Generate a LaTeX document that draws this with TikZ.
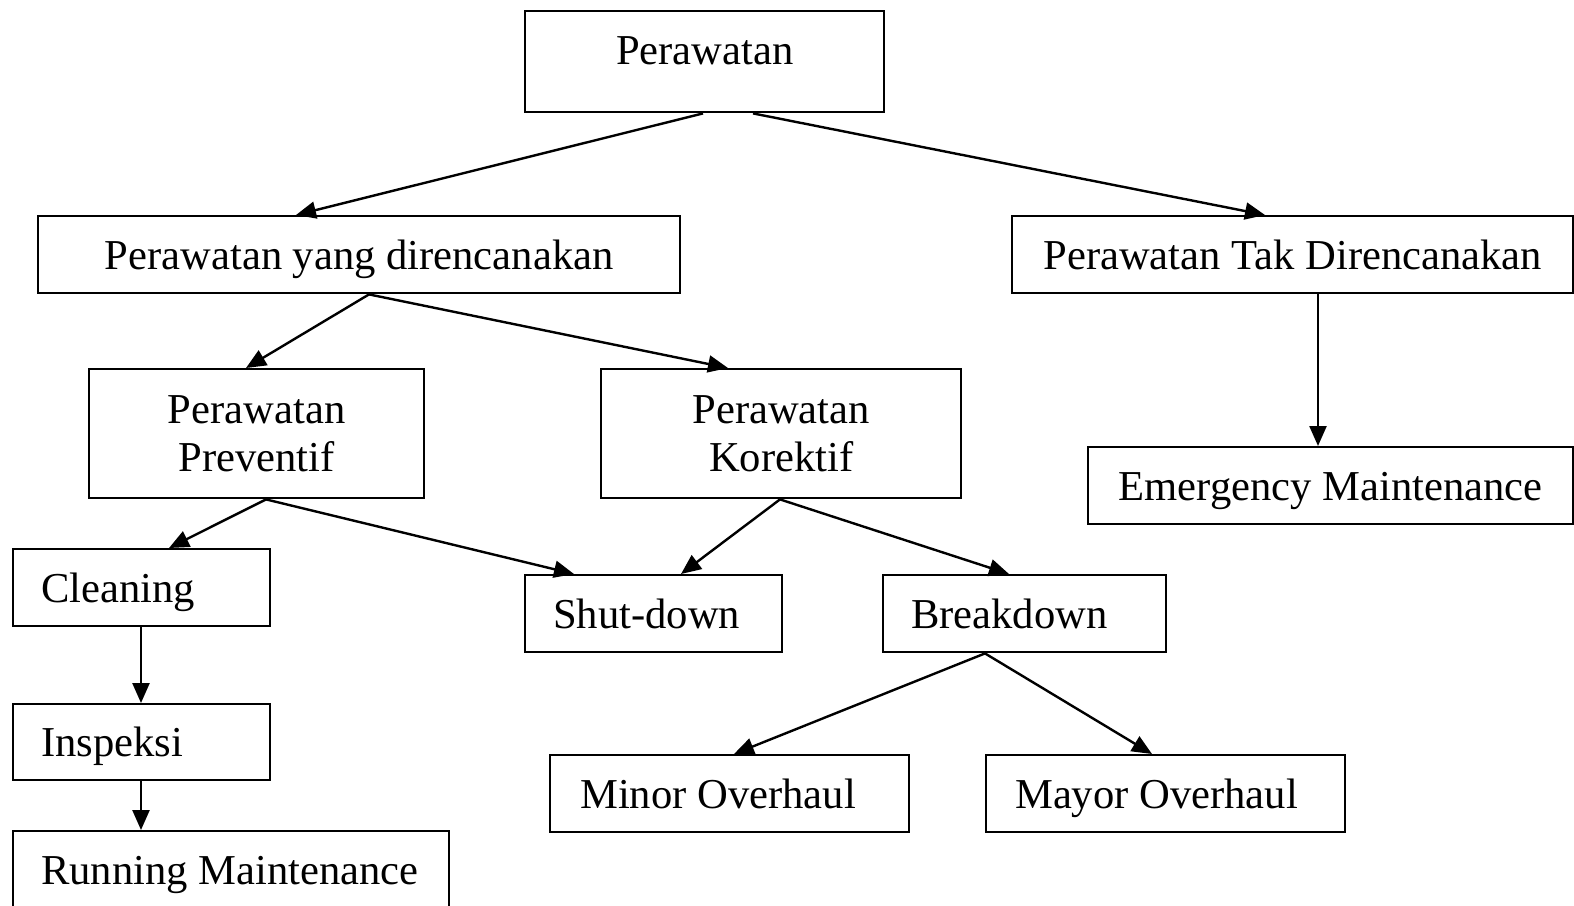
\documentclass[tikz,border=0pt]{standalone}
\usepackage{fontspec}
\setmainfont{Liberation Serif}
\usetikzlibrary{arrows.meta}
\newcommand{\lefttext}[2]{\makebox[#1][l]{#2}}
\begin{document}
\begin{tikzpicture}[x=1pt,y=-1pt,
  box/.style={draw, line width=2.4pt, inner sep=0pt, anchor=north west,
    font=\fontsize{42.6}{48}\selectfont},
  sbox/.style={box, text height=29pt, text depth=0pt},
  conn/.style={line width=2.4pt, -{Triangle[length=20pt,width=17pt]}}]
\useasboundingbox (0,0) rectangle (1574,905);
\node[box, minimum width=359pt, minimum height=101pt] (top) at (524,10) {};
\node[font=\fontsize{42.6}{48}\selectfont, inner sep=0pt, text height=29pt, text depth=0pt] (toptext) at ([yshift=12pt]top.center) {Perawatan};
\node[sbox, minimum width=642pt, minimum height=77pt] (pyd) at (37,215) {Perawatan yang direncanakan};
\node[sbox, minimum width=561pt, minimum height=77pt] (ptd) at (1011,215) {Perawatan Tak Direncanakan};
\node[box, align=center, minimum width=335pt, minimum height=129pt] (prev) at (88,368) {Perawatan\\Preventif};
\node[box, align=center, minimum width=360pt, minimum height=129pt] (kor) at (600,368) {Perawatan\\Korektif};
\node[sbox, minimum width=485pt, minimum height=77pt] (emer) at (1087,446) {Emergency Maintenance};
\node[sbox, minimum width=257pt, minimum height=77pt] (clean) at (12,548) {\lefttext{201pt}{Cleaning}};
\node[sbox, minimum width=257pt, minimum height=77pt] (shut) at (524,574) {\lefttext{201pt}{Shut-down}};
\node[sbox, minimum width=283pt, minimum height=77pt] (brk) at (882,574) {\lefttext{227pt}{Breakdown}};
\node[sbox, minimum width=257pt, minimum height=76pt] (insp) at (12,703) {\lefttext{201pt}{Inspeksi}};
\node[sbox, minimum width=436pt, minimum height=78pt] (run) at (12,830) {\lefttext{380pt}{Running Maintenance}};
\node[sbox, minimum width=359pt, minimum height=77pt] (minor) at (549,754) {\lefttext{299pt}{Minor Overhaul}};
\node[sbox, minimum width=359pt, minimum height=77pt] (mayor) at (985,754) {\lefttext{301pt}{Mayor Overhaul}};

\draw[conn] ([xshift=179pt]top.south west) -- ([xshift=259pt]pyd.north west);
\draw[conn] ([xshift=229pt]top.south west) -- ([xshift=254pt]ptd.north west);
\draw[conn] ([xshift=332pt]pyd.south west) -- ([xshift=158pt]prev.north west);
\draw[conn] ([xshift=332pt]pyd.south west) -- ([xshift=128pt]kor.north west);
\draw[conn] ([xshift=307pt]ptd.south west) -- ([xshift=231pt]emer.north west);
\draw[conn] ([xshift=178pt]prev.south west) -- ([xshift=157pt]clean.north west);
\draw[conn] ([xshift=178pt]prev.south west) -- ([xshift=50pt]shut.north west);
\draw[conn] ([xshift=180pt]kor.south west) -- ([xshift=157pt]shut.north west);
\draw[conn] ([xshift=180pt]kor.south west) -- ([xshift=127pt]brk.north west);
\draw[conn] ([xshift=129pt]clean.south west) -- ([xshift=129pt]insp.north west);
\draw[conn] ([xshift=129pt]insp.south west) -- ([xshift=129pt]run.north west);
\draw[conn] ([xshift=103pt]brk.south west) -- ([xshift=185pt]minor.north west);
\draw[conn] ([xshift=103pt]brk.south west) -- ([xshift=167pt]mayor.north west);
\end{tikzpicture}
\end{document}
